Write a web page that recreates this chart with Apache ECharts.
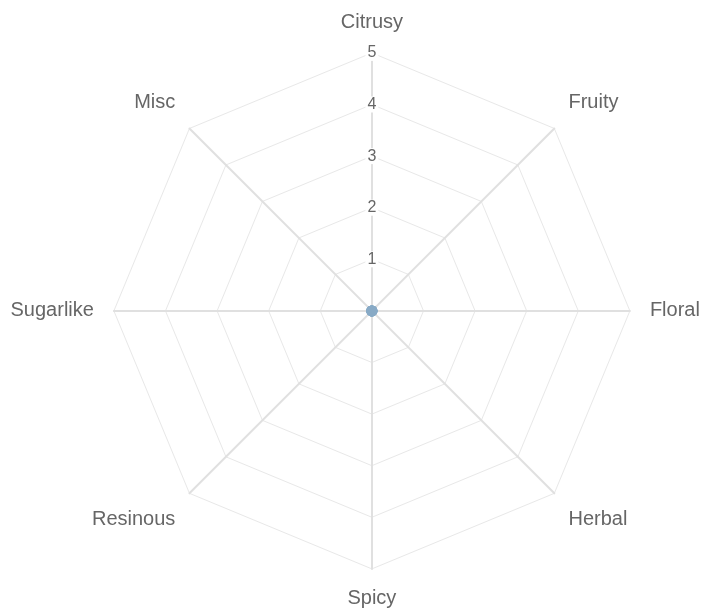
<!DOCTYPE html>
<html>
<head>
<meta charset="utf-8">
<script src="https://cdn.jsdelivr.net/npm/echarts@6/dist/echarts.min.js"></script>
<style>
html,body{margin:0;padding:0;background:#fff;}
#chart{width:703px;height:612px;}
</style>
</head>
<body>
<div id="chart"></div>
<script>
var flavours = ['Citrusy', 'Fruity', 'Floral', 'Herbal', 'Spicy', 'Resinous', 'Sugarlike', 'Misc'];
var scores = [0, 0, 0, 0, 0, 0, 0, 0];
var maxScore = 5;
var tickLabels = ['1', '2', '3', '4', '5'];

var center = ['52.9%', '50.8%'];
var radius = 258;
var font = 'Liberation Sans, Arial, sans-serif';

// diagonal names sit a bit further up / down than echarts puts them
var upper = ['Fruity', 'Misc'];
var lower = ['Herbal', 'Resinous'];

var indicators = [];
for (var i = 0; i < flavours.length; i++) {
	indicators.push({ name: flavours[i], max: maxScore, min: 0 });
}

var option = {
	backgroundColor: '#fff',
	radar: {
		center: center,
		radius: radius,
		startAngle: 90,
		splitNumber: 5,
		shape: 'polygon',
		indicator: indicators,
		axisName: {
			color: '#666', fontSize: 20, fontFamily: font,
			formatter: function (name) {
				if (upper.indexOf(name) >= 0) return '{up|' + name + '}';
				if (lower.indexOf(name) >= 0) return '{dn|' + name + '}';
				return '{n|' + name + '}';
			},
			rich: {
				n: { color: '#666', fontSize: 20, fontFamily: font },
				up: { color: '#666', fontSize: 20, fontFamily: font, padding: [0, 0, 24, 0] },
				dn: { color: '#666', fontSize: 20, fontFamily: font, padding: [24, 0, 0, 0] }
			}
		},
		nameGap: 20,
		axisLine: { lineStyle: { color: '#e0e0e0', width: 2 } },
		splitLine: { lineStyle: { color: '#e8e8e8', width: 1 } },
		splitArea: { show: false },
		axisTick: { show: false },
		axisLabel: { show: false }
	},
	polar: { center: center, radius: radius },
	angleAxis: { show: false, startAngle: 90, min: 0, max: 360 },
	radiusAxis: {
		min: 0, max: maxScore, interval: 1,
		axisLine: { show: false },
		axisTick: { show: false },
		splitLine: { show: false },
		axisLabel: {
			show: true,
			color: '#666',
			fontSize: 16,
			fontFamily: font,
			margin: 0,
			align: 'center',
			verticalAlign: 'middle',
			backgroundColor: '#fff',
			padding: [0, 2],
			formatter: function (v) { return v > 0 ? tickLabels[v - 1] : ''; }
		},
		z: 5
	},
	series: [{
		type: 'radar',
		symbol: 'circle',
		symbolSize: 11,
		itemStyle: { color: '#88aac6' },
		lineStyle: { color: '#88aac6', width: 2 },
		data: [{ value: scores }]
	}]
};

// radar's indicators run counter-clockwise, so reverse all but the first
option.radar.indicator = [indicators[0]].concat(indicators.slice(1).reverse());
option.series[0].data[0].value = [scores[0]].concat(scores.slice(1).reverse());

var myChart = echarts.init(document.getElementById('chart'));
myChart.setOption(option);
</script>
</body>
</html>
